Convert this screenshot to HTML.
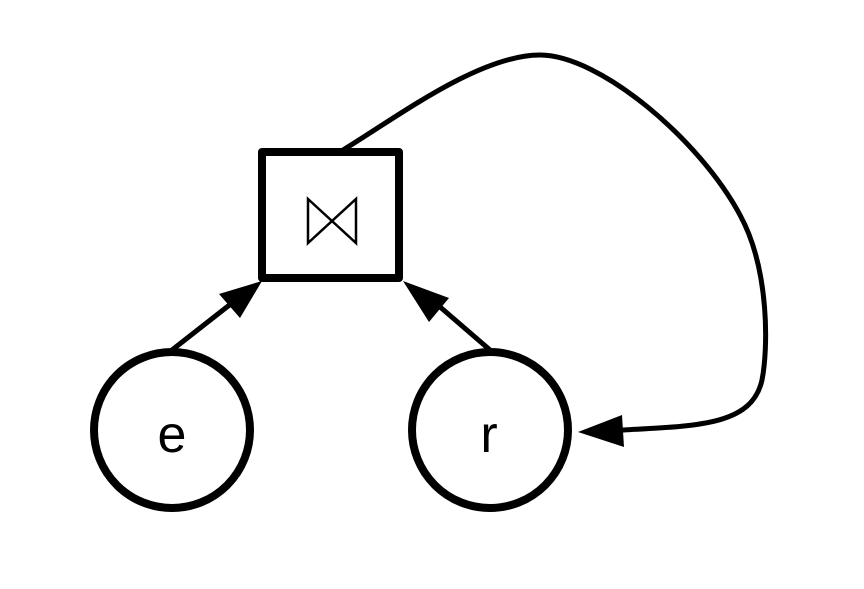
<!DOCTYPE html>
<html><head><style>html,body{margin:0;padding:0;background:#fff;}</style></head>
<body>
<svg width="864" height="584" viewBox="0 0 864 584" xmlns="http://www.w3.org/2000/svg">
<rect x="0" y="0" width="864" height="584" fill="#fff"/>
<rect x="262" y="152" width="137" height="126" fill="none" stroke="#000" stroke-width="8" stroke-linejoin="round"/>
<path d="M308,199 L356,243 L356,199 L308,243 Z" fill="none" stroke="#000" stroke-width="2.5"/>
<circle cx="172" cy="430" r="78" fill="none" stroke="#000" stroke-width="8"/>
<circle cx="490" cy="430" r="78" fill="none" stroke="#000" stroke-width="8"/>
<text x="172" y="452" font-family="Liberation Sans, sans-serif" font-size="52" text-anchor="middle">e</text>
<text x="489" y="452" font-family="Liberation Sans, sans-serif" font-size="52" text-anchor="middle">r</text>
<line x1="172" y1="350" x2="232" y2="303" stroke="#000" stroke-width="5"/>
<polygon points="262,281 219,294 240,318" fill="#000"/>
<line x1="490" y1="350" x2="432" y2="300" stroke="#000" stroke-width="5"/>
<polygon points="403,281 449,298 429,322" fill="#000"/>
<path d="M343,150 C400,115 480,55 540,55 C600,55 700,140 740,215 C770,270 768,350 762,380 C752,425 700,426 622,430" fill="none" stroke="#000" stroke-width="5"/>
<polygon points="578,432 622,415 624,447" fill="#000"/>
</svg>
</body></html>
